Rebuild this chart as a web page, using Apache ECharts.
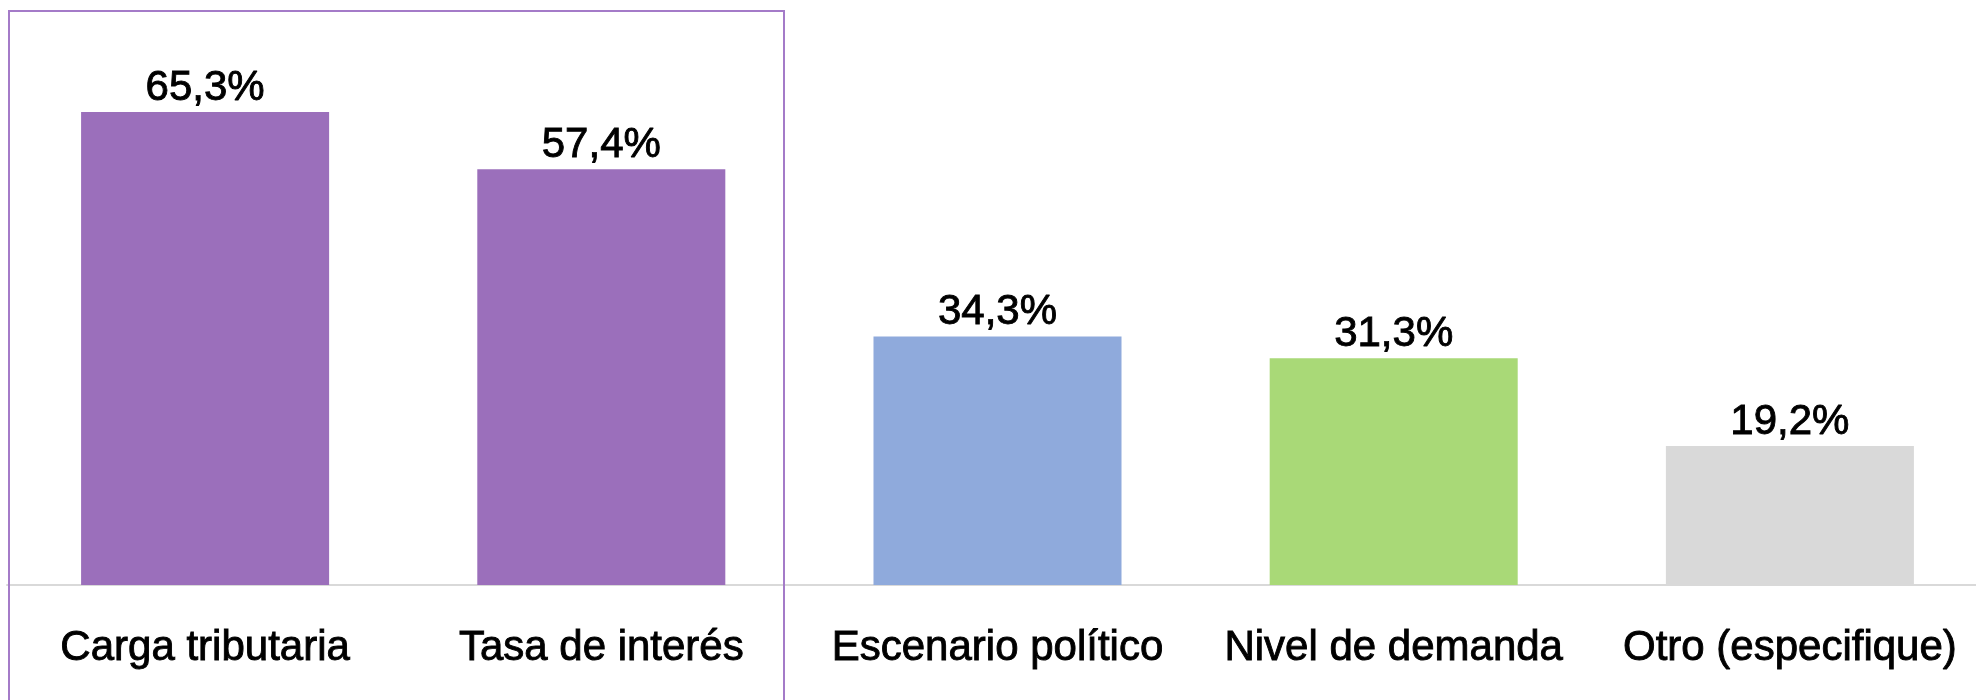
<!DOCTYPE html>
<html>
<head>
<meta charset="utf-8">
<script src="https://cdn.jsdelivr.net/npm/echarts@6/dist/echarts.min.js"></script>
<style>
  html, body { margin: 0; padding: 0; background: #fff; }
  #chart { width: 1976px; height: 700px; }
</style>
</head>
<body>
<div id="chart"></div>
<script>
// factores que afectan la inversión (%)
const categories = ['Carga tributaria', 'Tasa de interés', 'Escenario político', 'Nivel de demanda', 'Otro (especifique)'];
const values = [65.3, 57.4, 34.3, 31.3, 19.2];
const barColors = ['#9B6FBB', '#9B6FBB', '#8FAADC', '#A9D977', '#D9D9D9'];

const chart = echarts.init(document.getElementById('chart'));

const option = {
  animation: false,
  backgroundColor: '#fff',
  textStyle: { fontFamily: 'Liberation Sans, Arial, sans-serif' },
  // el área de trazado se sale un poco por la derecha, como en el original
  grid: {
    left: 7,
    right: -12,
    top: 78,
    bottom: 115,
    containLabel: false,
    outerBoundsMode: 'none',
  },
  xAxis: {
    type: 'category',
    data: categories,
    axisLine: { lineStyle: { color: '#D9D9D9', width: 2 } },
    axisTick: { show: false },
    axisLabel: {
      color: '#000',
      fontSize: 42,
      margin: 42,
      interval: 0,
      textBorderColor: '#000',
      textBorderWidth: 0.9,
    },
  },
  yAxis: {
    type: 'value',
    min: 0,
    max: 70,
    show: false,
    splitLine: { show: false },
  },
  series: [
    {
      type: 'bar',
      barWidth: '62.6%',
      data: values.map((v, i) => ({ value: v, itemStyle: { color: barColors[i] } })),
      label: {
        show: true,
        position: 'top',
        distance: 3,
        color: '#000',
        fontSize: 42,
        textBorderColor: '#000',
        textBorderWidth: 0.9,
        formatter: (p) => p.value.toFixed(1).replace('.', ',') + '%',
      },
    },
  ],
  graphic: [
    {
      // recuadro que resalta los dos primeros factores
      type: 'rect',
      shape: { x: 9, y: 11, width: 775, height: 720 },
      style: { fill: 'none', stroke: '#A47BC8', lineWidth: 2 },
      z: 10,
    },
  ],
};

chart.setOption(option);
</script>
</body>
</html>
